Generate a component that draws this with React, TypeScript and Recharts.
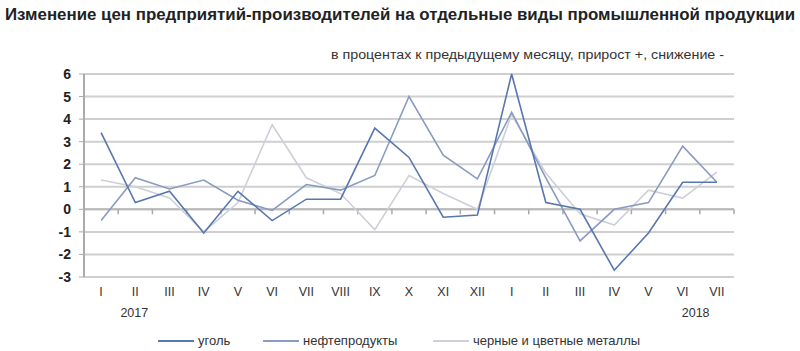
import React from 'react';
import { LineChart, Line, XAxis, YAxis, CartesianGrid, ReferenceLine, Legend } from 'recharts';

const months = ['I','II','III','IV','V','VI','VII','VIII','IX','X','XI','XII','I','II','III','IV','V','VI','VII'];
const coal = [3.4,0.3,0.8,-1.05,0.8,-0.5,0.45,0.45,3.6,2.3,-0.35,-0.25,6.0,0.3,0.0,-2.7,-1.05,1.2,1.2];
const oil = [-0.5,1.4,0.9,1.3,0.4,-0.05,1.1,0.85,1.5,5.0,2.4,1.35,4.3,1.4,-1.4,0.0,0.3,2.8,1.2];
const metals = [1.3,1.0,0.5,-1.0,0.3,3.75,1.4,0.7,-0.9,1.5,0.7,0.0,4.2,1.6,-0.2,-0.7,0.85,0.5,1.65];
const yTicks = [-3,-2,-1,0,1,2,3,4,5,6];
const yearLabels: Record<number, string> = { 1: '2017', 17: '2018' };

const title = 'Изменение цен предприятий-производителей на отдельные виды промышленной продукции';
const subtitle = 'в процентах к предыдущему месяцу, прирост +, снижение -';

const series = [
  { key: 'coal', name: 'уголь', color: '#5877b0' },
  { key: 'oil', name: 'нефтепродукты', color: '#8a9bc0' },
  { key: 'metals', name: 'черные и цветные металлы', color: '#cdd0d9' },
];

const data = months.map((m, i) => ({ m, idx: i, coal: coal[i], oil: oil[i], metals: metals[i] }));

const FONT = '"Liberation Sans Narrow", "Liberation Sans", Arial, sans-serif';

const PLOT_W = 650;
const HALF_STEP = PLOT_W / months.length / 2;

const XTick = (props: any) => {
  const { x, y, payload } = props;
  const i = payload.value as number;
  const yr = yearLabels[i];
  return (
    <g>
      <text x={x} y={y} dy={5} textAnchor="middle" fontSize={12.5} fill="#333" fontFamily={FONT}>{months[i]}</text>
      {yr && (
        <text x={x + (i === 17 ? 13 : -1)} y={y} dy={26} textAnchor="middle" fontSize={12.5} fill="#333" fontFamily={FONT}>{yr}</text>
      )}
    </g>
  );
};

const ZeroLine = (props: any) => {
  const { x1, x2, y1 } = props;
  const left = Math.min(x1, x2);
  const right = Math.max(x1, x2);
  const n = months.length;
  const step = (right - left) / n;
  const ticks = [];
  for (let i = 1; i <= n; i++) {
    const tx = left + step * i;
    ticks.push(<line key={i} x1={tx} x2={tx} y1={y1} y2={y1 + 5} stroke="#a9a9a9" strokeWidth={1.5} />);
  }
  return (
    <g>
      <line x1={left} x2={right} y1={y1} y2={y1} stroke="#b8b8b8" strokeWidth={2} />
      {ticks}
    </g>
  );
};

const LegendContent = () => {
  const pos = [158, 263, 433];
  return (
    <svg width={800} height={20} style={{ display: 'block' }}>
      {series.map((s, i) => (
        <g key={s.key}>
          <line x1={pos[i]} x2={pos[i] + 36} y1={10} y2={10} stroke={s.color} strokeWidth={2} />
          <text x={pos[i] + 40} y={14} fontSize={13} fill="#333" fontFamily={FONT}>{s.name}</text>
        </g>
      ))}
    </svg>
  );
};

export default function App() {
  return (
    <div style={{ position: 'absolute', left: 0, top: 0, width: 800, height: 351, background: '#fff' }}>
      <svg width={800} height={70} style={{ position: 'absolute', left: 0, top: 0 }}>
        <text x={5} y={20} fontSize={16} fontWeight="bold" fill="#222" fontFamily={FONT} textLength={790} lengthAdjust="spacingAndGlyphs">{title}</text>
        <text x={331} y={59} fontSize={12.5} fill="#333" fontFamily={FONT} textLength={393} lengthAdjust="spacingAndGlyphs">{subtitle}</text>
      </svg>
      <div style={{ position: 'absolute', left: 0, top: 0 }}>
        <LineChart width={800} height={351} data={data} margin={{ top: 74, right: 66, bottom: 0, left: 54 }}>
          <CartesianGrid vertical={false} stroke="#cfcfcf" strokeWidth={2} />
          <XAxis dataKey="idx" type="category" axisLine={false} tickLine={false} tickSize={0} tickMargin={14} tick={<XTick />} interval={0} height={54} padding={{ left: HALF_STEP, right: HALF_STEP }} />
          <YAxis domain={[-3, 6]} ticks={yTicks} width={30} axisLine={{ stroke: '#ababab', strokeWidth: 2 }} tickLine={{ stroke: '#ababab' }} tickSize={5} tickMargin={8} tick={{ fontSize: 14, fill: '#222', fontFamily: FONT, fontWeight: 'bold' }} interval={0} />
          <ReferenceLine y={0} shape={(p: any) => <ZeroLine {...p} />} />
          {series.slice().reverse().map((s) => (
            <Line key={s.key} type="linear" dataKey={s.key} name={s.name} stroke={s.color} strokeWidth={1.6} dot={false} isAnimationActive={false} />
          ))}
          <Legend content={<LegendContent />} wrapperStyle={{ position: 'absolute', left: 0, top: 331, width: 800 }} />
        </LineChart>
      </div>
    </div>
  );
}
